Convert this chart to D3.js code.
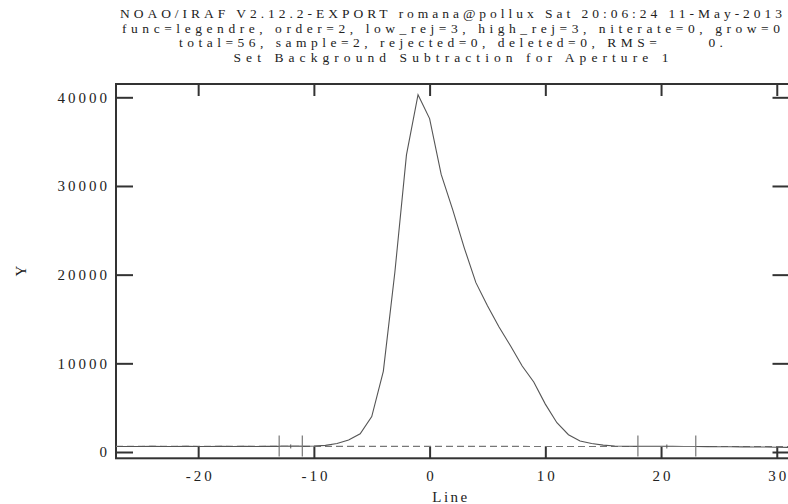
<!DOCTYPE html>
<html>
<head>
<meta charset="utf-8">
<script src="https://cdn.jsdelivr.net/npm/d3@7"></script>
<style>
  body { margin: 0; background: #fff; }
  svg { display: block; }
  text { font-family: "Liberation Serif", "DejaVu Serif", serif; fill: #222; white-space: pre; }
</style>
</head>
<body>
<div id="chart"></div>
<script>
// title lines
var titleLines = [
	"NOAO/IRAF V2.12.2-EXPORT romana@pollux Sat 20:06:24 11-May-2013",
	"func=legendre, order=2, low_rej=3, high_rej=3, niterate=0, grow=0",
	"total=56, sample=2, rejected=0, deleted=0, RMS=      0.",
	"Set Background Subtraction for Aperture 1"
];
var titleWidths = [662, 658, 544, 435];

// profile across the aperture (line offset vs counts)
var lines = [-27,-26,-25,-24,-23,-22,-21,-20,-19,-18,-17,-16,-15,-14,-13,-12,-11,-10,-9,-8,-7,-6,-5,-4,-3,-2,-1,
	0,1,2,3,4,5,6,7,8,9,10,11,12,13,14,15,16,17,18,19,20,21,22,23,24,25,26,27,28,29,30,31];
var counts = [620,625,620,630,625,620,630,625,620,630,625,630,625,630,635,630,640,680,750,960,1350,2050,4000,9100,20300,33500,40300,
	37600,31300,27300,23000,19100,16500,14100,11950,9700,7900,5400,3300,1950,1250,950,780,680,650,640,630,640,630,625,620,610,600,590,580,570,560,540,520];

// background sample regions and fitted background
var sampleRegions = [[-13, -11], [18, 23]];
var fitX = [-27.1, 31.1];
var fitY = [632, 618];

var xTicks = [-20, -10, 0, 10, 20, 30];
var yTicks = [0, 10000, 20000, 30000, 40000];

(function() {
	var W = 788, H = 504;
	var pl = 116, pr = 789.5, pt = 84, pb = 458.3;

	var x = d3.scaleLinear().domain([-27.1, 31.1]).range([pl, pr]);
	var y = d3.scaleLinear().domain([-710, 41500]).range([pb, pt]);
	var fit = d3.scaleLinear().domain(fitX).range(fitY);

	var svg = d3.select("#chart").append("svg")
		.attr("width", W)
		.attr("height", H);

	// titles
	svg.selectAll("text.title")
		.data(titleLines)
		.enter()
		.append("text")
		.attr("class", "title")
		.attr("x", 451)
		.attr("y", function(d, i) { return 18 + i * 14.5; })
		.attr("text-anchor", "middle")
		.attr("font-size", "13.5px")
		.attr("textLength", function(d, i) { return titleWidths[i]; })
		.attr("lengthAdjust", "spacing")
		.text(function(d) { return d; });

	// frame
	svg.append("rect")
		.attr("x", pl).attr("y", pt)
		.attr("width", pr - pl).attr("height", pb - pt)
		.attr("fill", "none").attr("stroke", "#333").attr("stroke-width", 2);

	function styleAxis(g) {
		g.select(".domain").remove();
		g.selectAll(".tick line").attr("stroke", "#333").attr("stroke-width", 2);
		g.selectAll(".tick text")
			.attr("fill", "#222")
			.attr("font-size", "15px")
			.attr("letter-spacing", "3px")
			.attr("font-family", "'Liberation Serif', serif");
	}

	var fmt = function(d) { return d < 0 ? "-" + Math.abs(d) : String(d); };

	svg.append("g")
		.attr("transform", "translate(0," + pb + ")")
		.call(d3.axisBottom(x).tickValues(xTicks).tickSize(-12).tickPadding(12).tickFormat(fmt))
		.call(styleAxis)
		.selectAll(".tick text").attr("dx", "1.5px");

	svg.append("g")
		.attr("transform", "translate(0," + pt + ")")
		.call(d3.axisTop(x).tickValues(xTicks).tickSize(-12).tickFormat(""))
		.call(styleAxis);

	svg.append("g")
		.attr("transform", "translate(" + pl + ",0)")
		.call(d3.axisLeft(y).tickValues(yTicks).tickSize(-17).tickPadding(6).tickFormat(d3.format("d")))
		.call(styleAxis);

	svg.append("g")
		.attr("transform", "translate(" + pr + ",0)")
		.call(d3.axisRight(y).tickValues(yTicks).tickSize(-17).tickFormat(""))
		.call(styleAxis);

	// axis titles
	svg.append("text")
		.attr("x", 451).attr("y", 502)
		.attr("text-anchor", "middle")
		.attr("font-size", "15px")
		.attr("letter-spacing", "2.5px")
		.text("Line");

	svg.append("text")
		.attr("transform", "translate(26," + ((pt + pb) / 2) + ") rotate(-90)")
		.attr("text-anchor", "middle")
		.attr("font-size", "15px")
		.text("Y");

	var plot = svg.append("g");

	// fitted background (dashed)
	plot.append("line")
		.attr("x1", x(fitX[0])).attr("x2", x(fitX[1]))
		.attr("y1", y(fitY[0])).attr("y2", y(fitY[1]))
		.attr("stroke", "#777").attr("stroke-width", 1.2)
		.attr("stroke-dasharray", "7,4");

	// data profile
	var pts = lines.map(function(l, i) { return [l, counts[i]]; });
	plot.append("path")
		.datum(pts)
		.attr("d", d3.line().x(function(d) { return x(d[0]); }).y(function(d) { return y(d[1]); }))
		.attr("fill", "none")
		.attr("stroke", "#555")
		.attr("stroke-width", 1.1);

	// sample region markers
	var marks = plot.selectAll("g.sample")
		.data(sampleRegions)
		.enter()
		.append("g")
		.attr("class", "sample");

	marks.append("line")
		.attr("x1", function(d) { return x(d[0]); })
		.attr("x2", function(d) { return x(d[1]); })
		.attr("y1", function(d) { return y(fit(d[0])); })
		.attr("y2", function(d) { return y(fit(d[1])); })
		.attr("stroke", "#777").attr("stroke-width", 1.2);

	[0, 1].forEach(function(k) {
		marks.append("line")
			.attr("x1", function(d) { return x(d[k]); })
			.attr("x2", function(d) { return x(d[k]); })
			.attr("y1", function(d) { return y(fit(d[k])) - 11; })
			.attr("y2", function(d) { return y(fit(d[k])) + 10; })
			.attr("stroke", "#777").attr("stroke-width", 1.2);
	});

	marks.append("line")
		.attr("x1", function(d) { return x((d[0] + d[1]) / 2); })
		.attr("x2", function(d) { return x((d[0] + d[1]) / 2); })
		.attr("y1", function(d) { return y(fit((d[0] + d[1]) / 2)) - 2; })
		.attr("y2", function(d) { return y(fit((d[0] + d[1]) / 2)) + 2; })
		.attr("stroke", "#555").attr("stroke-width", 1);
})();
</script>
</body>
</html>
